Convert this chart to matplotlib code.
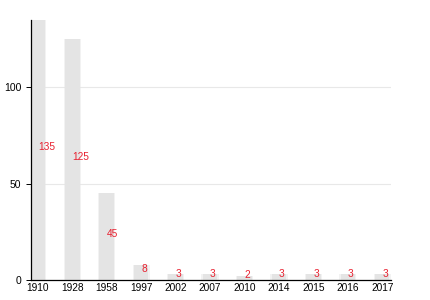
import matplotlib
matplotlib.use("Agg")
import matplotlib.pyplot as plt
import numpy as np

plt.rcParams["font.family"] = ["Liberation Sans", "DejaVu Sans"]

years = ["1910", "1928", "1958", "1997", "2002", "2007", "2010", "2014", "2015", "2016", "2017"]
counts = [135, 125, 45, 8, 3, 3, 2, 3, 3, 3, 3]

fig = plt.figure(figsize=(4.3, 3.0), dpi=100)
ax = fig.add_axes([0.072, 0.067, 0.837, 0.866])

x = np.arange(len(years))
# soft edge, then solid core
ax.bar(x, counts, width=0.50, color="#e4e4e4", alpha=0.45, zorder=2)
ax.bar(x, counts, width=0.42, color="#e4e4e4", zorder=2)

for xi, v in zip(x, counts):
    ax.text(xi, v / 2, str(v), color="#e8202f", fontsize=7.3,
            ha="left", va="baseline", zorder=3)

ax.set_xlim(-0.2, 10.25)
ax.set_ylim(0, 135)
ax.set_yticks([0, 50, 100])
ax.set_xticks(x)
ax.set_xticklabels(years)
ax.tick_params(axis="y", labelsize=7.5, length=3.6, width=0.7, pad=3.5)
ax.tick_params(axis="x", labelsize=7.3, length=0, pad=2.5)
ax.yaxis.grid(True, color="#e8e8e8", linewidth=0.8, zorder=0)
ax.set_axisbelow(True)
for side in ("top", "right"):
    ax.spines[side].set_visible(False)
for side in ("left", "bottom"):
    ax.spines[side].set_linewidth(0.9)

fig.savefig("out.png", dpi=100)
